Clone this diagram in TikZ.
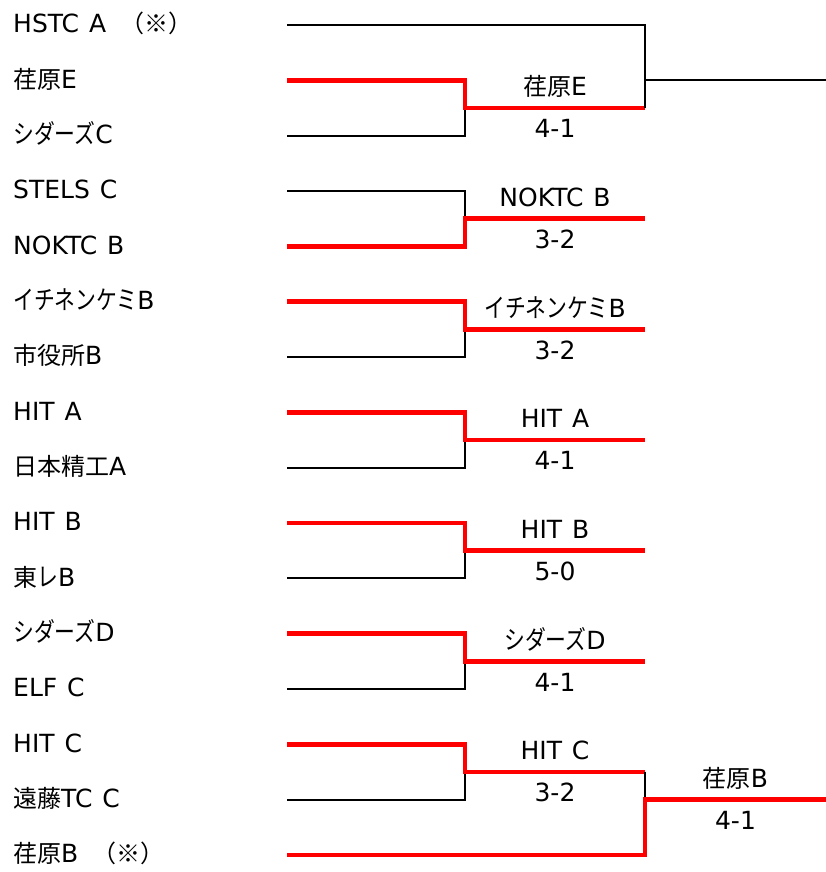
\documentclass[tikz,border=0pt]{standalone}
\usepackage{fontspec}
\setmainfont[WordSpace=1.25]{DejaVu Sans}
\newfontfamily\jpfont{Noto Sans CJK JP}
\newfontfamily\kanafont[FakeStretch=0.8]{Noto Sans CJK JP}
\newcommand{\jtext}[1]{{\fontsize{24}{28}\selectfont\jpfont #1}}
\newcommand{\ktext}[1]{{\fontsize{26}{28}\selectfont\kanafont #1}}
\usetikzlibrary{calc}

\begin{document}
\begin{tikzpicture}[x=1pt,y=-1pt,
  lose/.style={line width=2.2pt},
  win/.style={draw=red,line width=4.6pt},
  every node/.style={font=\fontsize{25}{28}\selectfont,inner sep=0pt}]
  \useasboundingbox (0,0) rectangle (826,872);

  % teams
  \foreach \i/\name in {1/HSTC A\hspace{14pt}\jtext{（※）}, 2/\jtext{荏原}E, 3/\ktext{シダーズ}C, 4/STELS C,
    5/NOKTC B, 6/\ktext{イチネンケミ}B, 7/\jtext{市役所}B, 8/HIT A, 9/\jtext{日本精工}A,
    10/HIT B, 11/\jtext{東}\ktext{レ}B, 12/\ktext{シダーズ}D, 13/ELF C, 14/HIT C,
    15/\jtext{遠藤}TC C, 16/\jtext{荏原}B\hspace{14pt}\jtext{（※）}}{
    \pgfmathsetmacro\y{25+55.33*(\i-1)}
    \node[anchor=base west] (t\i) at (13,\y+8) {\name};
    \coordinate (s\i) at (287,\y);
    \coordinate (c\i) at (465,\y);
    \coordinate (q\i) at (645,\y);
  }

  % first round
  \foreach \m/\win/\lose/\name/\score in {a/2/3/\jtext{荏原}E/4-1, b/5/4/NOKTC B/3-2,
    c/6/7/\ktext{イチネンケミ}B/3-2, d/8/9/HIT A/4-1, e/10/11/HIT B/5-0,
    f/12/13/\ktext{シダーズ}D/4-1, g/14/15/HIT C/3-2}{
    \coordinate (m\m) at ($(c\win)!.5!(c\lose)$);
    \coordinate (e\m) at ($(q\win)!.5!(q\lose)$);
    \coordinate (h\m) at ($(m\m)!.5!(e\m)$);
    \draw[lose] (s\lose) -- (c\lose) -- (m\m);
    \draw[win] (s\win) -- (c\win) -- (m\m) -- (e\m);
    \node[anchor=base] (w\m) at ([yshift=12pt]h\m) {\name};
    \node[anchor=base] (r\m) at ([yshift=-30pt]h\m) {\score};
  }

  % top
  \coordinate (fa) at (826,0 |- q2);
  \draw[lose] (s1) -- (q1) -- (ea);
  \draw[lose] (q2) -- (fa);

  % bottom
  \coordinate (fb) at (826,0 |- q15);
  \coordinate (hb) at ($(q15)!.5!(fb)$);
  \draw[lose] (eg) -- (q15);
  \draw[win] (s16) -- (q16) -- (q15) -- (fb);
  \node[anchor=base] (wb) at ([yshift=12pt]hb) {\jtext{荏原}B};
  \node[anchor=base] (rb) at ([yshift=-30pt]hb) {4-1};
\end{tikzpicture}
\end{document}
